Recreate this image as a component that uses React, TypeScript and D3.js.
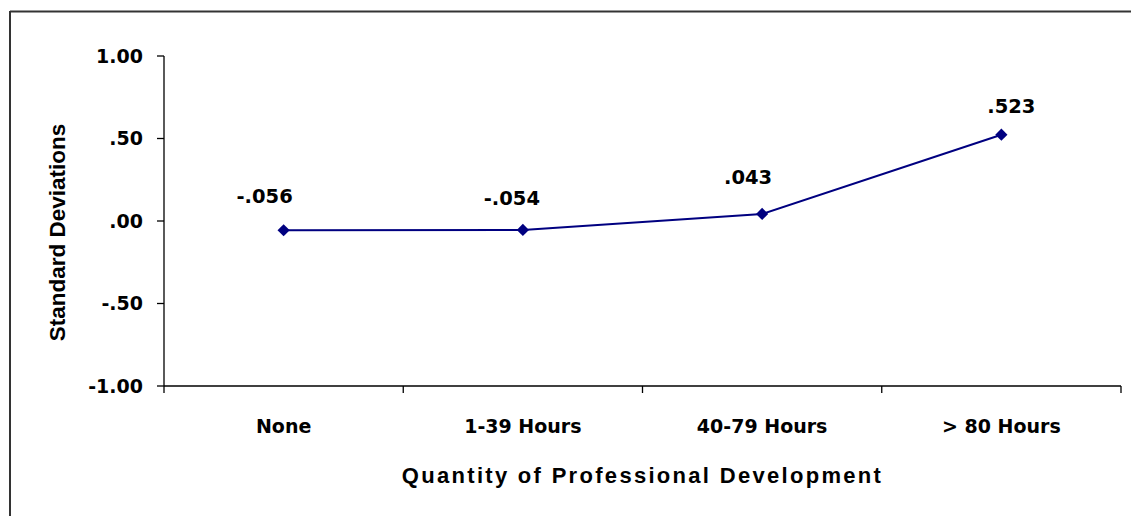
import React from "react";
import * as d3 from "d3";

const categories = ["None", "1-39 Hours", "40-79 Hours", "> 80 Hours"];
const values = [-0.056, -0.054, 0.043, 0.523];
const valueLabels = ["-.056", "-.054", ".043", ".523"];
const yTicks = [1, 0.5, 0, -0.5, -1];
const yTickLabels = ["1.00", ".50", ".00", "-.50", "-1.00"];

const W = 1131;
const H = 516;
const M = { left: 164, right: 1121, top: 56, bottom: 386 };
const LABEL_DX = [-19, -11, -14, 10];
const LABEL_DY = [-27, -25, -30, -22];
const WIDE = "'DejaVu Sans', Verdana, sans-serif";
const ARIAL = "'Liberation Sans', Arial, sans-serif";

export default function App() {
  const x = d3.scaleBand<string>().domain(categories).range([M.left, M.right]);
  const y = d3.scaleLinear().domain([-1, 1]).range([M.bottom, M.top]);
  const cx = (c: string) => (x(c) as number) + x.bandwidth() / 2;
  const line = d3
    .line<number>()
    .x((_, i) => cx(categories[i]))
    .y((v) => y(v));
  const diamond = d3.symbol().type(d3.symbolDiamond2).size(95)();
  const boundaries = [...categories.map((c) => x(c) as number), M.right];

  return (
    <svg
      width={W}
      height={H}
      style={{ position: "absolute", left: 0, top: 0, background: "#fff" }}
    >
      <rect x={0} y={0} width={W} height={H} fill="#fff" />
      <line x1={10} y1={11.5} x2={W} y2={11.5} stroke="#333" strokeWidth={2} />
      <line x1={10} y1={11} x2={10} y2={H} stroke="#333" strokeWidth={2} />

      {/* Y axis */}
      <line x1={M.left} y1={M.top} x2={M.left} y2={M.bottom} stroke="#000" strokeWidth={1.3} />
      {yTicks.map((t, i) => (
        <g key={t}>
          <line x1={M.left - 7} x2={M.left} y1={y(t)} y2={y(t)} stroke="#000" strokeWidth={1.3} />
          <text
            x={M.left - 21}
            y={y(t)}
            dy="0.36em"
            textAnchor="end"
            fontFamily={WIDE}
            fontSize={19}
            fontWeight="bold"
            fill="#000"
          >
            {yTickLabels[i]}
          </text>
        </g>
      ))}

      {/* X axis */}
      <line x1={M.left} y1={M.bottom} x2={M.right} y2={M.bottom} stroke="#000" strokeWidth={1.3} />
      {boundaries.map((b, i) => (
        <line key={i} x1={b} x2={b} y1={M.bottom} y2={M.bottom + 7} stroke="#000" strokeWidth={1.3} />
      ))}
      {categories.map((c) => (
        <text
          key={c}
          x={cx(c)}
          y={433}
          textAnchor="middle"
          fontFamily={WIDE}
          fontSize={19}
          fontWeight="bold"
          fill="#000"
        >
          {c}
        </text>
      ))}

      <text
        x={(M.left + M.right) / 2}
        y={483}
        textAnchor="middle"
        fontFamily={ARIAL}
        fontSize={22}
        fontWeight="bold"
        letterSpacing={2.3}
        fill="#000"
      >
        Quantity of Professional Development
      </text>
      <text
        transform="translate(65, 232.5) rotate(-90)"
        textAnchor="middle"
        fontFamily={ARIAL}
        fontSize={22.5}
        fontWeight="bold"
        fill="#000"
      >
        Standard Deviations
      </text>

      {/* Series */}
      <path d={line(values) || ""} fill="none" stroke="#000080" strokeWidth={2} />
      {values.map((v, i) => (
        <path
          key={i}
          d={diamond || ""}
          transform={`translate(${cx(categories[i])}, ${y(v)})`}
          fill="#000080"
        />
      ))}
      {values.map((v, i) => (
        <text
          key={"l" + i}
          x={cx(categories[i]) + LABEL_DX[i]}
          y={y(v) + LABEL_DY[i]}
          textAnchor="middle"
          fontFamily={WIDE}
          fontSize={19.5}
          fontWeight="bold"
          fill="#000"
        >
          {valueLabels[i]}
        </text>
      ))}
    </svg>
  );
}
